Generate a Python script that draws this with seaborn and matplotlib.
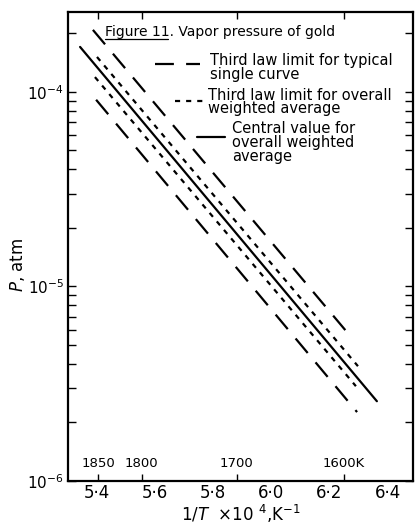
import matplotlib
matplotlib.use("Agg")
import matplotlib.pyplot as plt
import matplotlib.ticker as mticker
import numpy as np
import pandas as pd
import seaborn as sns

# Curve end points: 1/T x 10^4 (K^-1) and vapour pressure (atm)
curve_names = ["upper_single", "upper_avg", "central", "lower_avg", "lower_single"]
curve_kind = ["single", "average", "central", "average", "single"]
inv_t_start = [5.388, 5.402, 5.344, 5.395, 5.399]
inv_t_end = [6.281, 6.298, 6.363, 6.291, 6.295]
p_start = [2.08e-4, 1.51e-4, 1.70e-4, 1.19e-4, 9.1e-5]
p_end = [5.35e-6, 3.89e-6, 2.57e-6, 3.07e-6, 2.26e-6]

# Temperature scale marked along the axis
temps_k = [1850, 1800, 1700, 1600]
temp_labels = ["1850", "1800", "1700", "1600K"]

# Reciprocal temperature ticks
inv_t_ticks = [5.4, 5.6, 5.8, 6.0, 6.2, 6.4]
inv_t_labels = ["5·4", "5·6", "5·8", "6·0", "6·2", "6·4"]

legend_texts = [
    "Third law limit for typical\nsingle curve",
    "Third law limit for overall\nweighted average",
    "Central value for\noverall weighted\naverage",
]

sns.set_style("ticks")
plt.rcParams["font.family"] = ["DejaVu Sans"]
plt.rcParams["mathtext.fontset"] = "dejavusans"
for key in ["text.color", "axes.labelcolor", "xtick.color", "ytick.color",
            "axes.edgecolor"]:
    plt.rcParams[key] = "black"

rows = []
for name, kind, x0, x1, y0, y1 in zip(curve_names, curve_kind, inv_t_start,
                                      inv_t_end, p_start, p_end):
    rows.append({"curve": name, "kind": kind, "inv_t": x0, "p": y0})
    rows.append({"curve": name, "kind": kind, "inv_t": x1, "p": y1})
df = pd.DataFrame(rows)

fig = plt.figure(figsize=(4.15, 5.28), dpi=100)
ax = fig.add_axes([68 / 415, 47 / 528, 345 / 415, 469 / 528])

dash_styles = {"single": (8.5, 5.5), "average": (2.3, 2.7), "central": ""}
sns.lineplot(data=df, x="inv_t", y="p", style="kind", units="curve",
             estimator=None, dashes=dash_styles, color="black",
             linewidth=1.6, legend=False, ax=ax)

ax.set_yscale("log")
ax.set_ylim(1e-6, 2.57e-4)
ax.set_xlim(5.3025, 6.487)

for sp in ax.spines.values():
    sp.set_linewidth(1.6)
    sp.set_visible(True)
    sp.set_color("black")

# y axis: decades with inward minor ticks on both sides
ax.yaxis.set_major_locator(mticker.FixedLocator([1e-6, 1e-5, 1e-4]))
ax.yaxis.set_minor_locator(mticker.LogLocator(base=10, subs=np.arange(2, 10)))
ax.yaxis.set_minor_formatter(mticker.NullFormatter())
ax.tick_params(axis="y", which="both", direction="in", left=True, right=True,
               length=6, width=1.0, labelsize=11, pad=3, colors="black")

# x axis: temperature marks on the frame, labels inside the plot
ax.set_xticks([1e4 / t for t in temps_k])
ax.set_xticklabels(temp_labels)
ax.tick_params(axis="x", which="major", direction="in", top=True, bottom=True,
               length=5, width=1.0, labelsize=9.5, pad=-17, colors="black")
ax.tick_params(axis="x", which="minor", bottom=False, top=False)

secax = ax.secondary_xaxis("bottom")
secax.set_xticks(inv_t_ticks)
secax.set_xticklabels(inv_t_labels)
secax.tick_params(axis="x", length=0, labelsize=12, pad=2, colors="black")
secax.spines["bottom"].set_visible(False)
secax.set_xlabel(r"1/$T$  ×10 $^{4}$,K$^{-1}$", fontsize=12, labelpad=1,
                 color="black")

ax.set_xlabel("")
ax.set_ylabel("$P$, atm", fontsize=12, color="black")
ax.yaxis.set_label_coords(-0.12, 0.46)

# Title with underlined figure number
ax.text(0.107, 0.972, "Figure 11. Vapor pressure of gold", transform=ax.transAxes,
        ha="left", va="top", fontsize=10, color="black")
ax.plot([0.107, 0.29], [0.942, 0.942], transform=ax.transAxes, color="black",
        linewidth=0.9)

# Key
key_rows = [
    (0.252, 0.383, 0.889, 0.412, 0.912, (8.5, 5.5)),
    (0.310, 0.391, 0.810, 0.406, 0.839, (2.3, 2.7)),
    (0.374, 0.455, 0.733, 0.475, 0.767, None),
]
for (x0, x1, yl, xt, yt, dash), label in zip(key_rows, legend_texts):
    ln, = ax.plot([x0, x1], [yl, yl], transform=ax.transAxes, color="black",
                  linewidth=1.6)
    if dash is not None:
        ln.set_dashes(dash)
    ax.text(xt, yt, label, transform=ax.transAxes, ha="left", va="top",
            fontsize=10.5, linespacing=0.9, color="black")

fig.savefig("out.png", dpi=100)
